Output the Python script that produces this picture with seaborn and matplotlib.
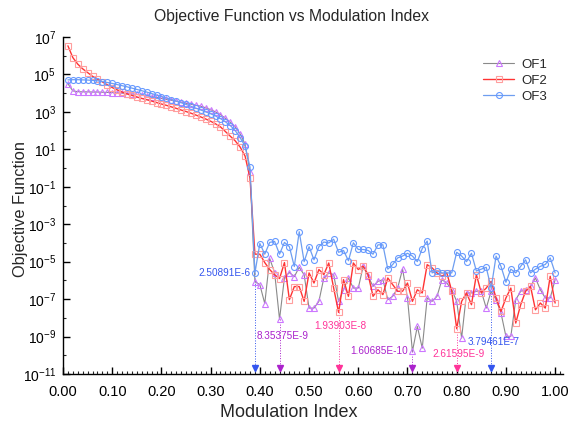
import numpy as np
import pandas as pd
import matplotlib
matplotlib.use("Agg")
import matplotlib.pyplot as plt
import matplotlib.ticker as mticker
from matplotlib.lines import Line2D
import seaborn as sns

# ---------------- data ----------------
x_vals = [round(0.01 * i, 2) for i in range(1, 101)]

# log10 of objective function values
of1_log10 = [4.5, 4.12, 4.08, 4.07, 4.07, 4.06, 4.06, 4.05, 4.04, 4.03,
             4.02, 4.0, 3.98, 3.96, 3.93, 3.9, 3.86, 3.82, 3.77, 3.72,
             3.67, 3.62, 3.57, 3.52, 3.46, 3.41, 3.36, 3.3, 3.22, 3.12,
             3.0, 2.85, 2.66, 2.45, 2.2, 1.82, 1.28, -0.22,
             -6.07, -6.23, -7.24, -4.83, -5.58, -8.078, -5.85, -5.58, -5.8, -5.3,
             -5.7, -7.48, -7.48, -7.12, -5.87, -5.6, -5.69, -7.12, -6.5, -5.87,
             -6.41, -6.41, -5.24, -5.78, -6.32, -6.05, -5.96, -7.03, -6.85, -6.41,
             -5.39, -6.94, -9.794, -8.46, -9.62, -6.94, -7.12, -6.85, -5.96, -6.14,
             -6.5, -7.12, -9.08, -6.67, -6.67, -6.58, -6.58, -7.48, -6.58, -7.03,
             -7.74, -8.99, -8.99, -7.03, -6.58, -6.5, -6.32, -5.87, -6.5, -6.94,
             -6.94, -5.96]

of2_log10 = [6.53, 5.9, 5.55, 5.3, 5.1, 4.9, 4.75, 4.6, 4.45, 4.3,
             4.18, 4.06, 3.96, 3.88, 3.8, 3.72, 3.65, 3.58, 3.5, 3.42,
             3.35, 3.27, 3.19, 3.1, 3.02, 2.93, 2.83, 2.73, 2.62, 2.5,
             2.36, 2.2, 1.95, 1.7, 1.45, 1.12, 0.64, -0.54,
             -4.6, -4.6, -5.05, -5.42, -5.7, -5.9, -5.05, -7.03, -6.33, -6.33,
             -7.12, -5.6, -6.14, -5.42, -5.69, -5.07, -6.41, -7.712, -5.96, -6.85,
             -5.07, -5.42, -5.24, -5.69, -6.85, -6.5, -6.76, -5.87, -6.23, -6.58,
             -6.58, -6.14, -7.12, -6.5, -6.67, -5.16, -5.33, -5.6, -5.78, -5.6,
             -6.58, -8.582, -7.12, -6.67, -7.3, -5.69, -6.67, -6.41, -6.05, -6.94,
             -7.66, -6.94, -6.41, -8.28, -7.3, -6.58, -6.32, -7.57, -7.21, -7.48,
             -5.78, -7.21]

of3_log10 = [4.71, 4.72, 4.72, 4.71, 4.7, 4.68, 4.66, 4.62, 4.57, 4.52,
             4.46, 4.4, 4.34, 4.27, 4.2, 4.13, 4.06, 3.98, 3.9, 3.82,
             3.74, 3.66, 3.58, 3.49, 3.4, 3.3, 3.2, 3.1, 3.0, 2.9,
             2.78, 2.64, 2.47, 2.27, 2.0, 1.62, 1.17, 0.05,
             -5.6005, -4.03, -4.6, -3.97, -3.92, -4.6, -3.97, -4.2, -5.26, -3.4,
             -5.0, -4.2, -4.9, -4.2, -3.95, -4.0, -3.8, -4.5, -4.4, -4.95,
             -3.99, -4.35, -4.35, -4.4, -4.6, -4.1, -4.1, -5.4, -5.15, -4.8,
             -4.7, -4.55, -4.7, -5.0, -4.3, -3.9, -5.6, -5.5, -5.6, -5.6,
             -5.6, -4.5, -4.7, -5.0, -4.55, -5.5, -5.4, -5.3, -6.421, -4.7,
             -5.25, -6.1, -5.4, -5.6, -5.25, -4.9, -5.6, -5.4, -5.25, -5.15,
             -4.8, -5.6]

series_names = ["OF1", "OF2", "OF3"]

# annotated minima
annot_x = [0.39, 0.44, 0.56, 0.71, 0.80, 0.87]
annot_val = [2.50891e-6, 8.35375e-9, 1.93903e-8, 1.60685e-10, 2.61595e-9, 3.79461e-7]
annot_text = ["2.50891E-6", "8.35375E-9", "1.93903E-8", "1.60685E-10", "2.61595E-9", "3.79461E-7"]
annot_color = ["#3355EE", "#AA22CC", "#FF3399", "#AA22CC", "#FF3399", "#3355EE"]
annot_tx = [0.381, 0.447, 0.563, 0.702, 0.803, 0.876]
annot_ty = [2.50891e-6, 1.1e-9, 3.7e-9, 1.60685e-10, 1.2e-10, 5.2e-10]
annot_ha = ["right", "center", "center", "right", "center", "center"]

# ---------------- styling ----------------
sns.set_style("ticks")
plt.rcParams["font.family"] = ["Liberation Sans", "DejaVu Sans"]
plt.rcParams["mathtext.fontset"] = "custom"
plt.rcParams["mathtext.rm"] = "Liberation Sans"
plt.rcParams["mathtext.it"] = "Liberation Sans:italic"

fig = plt.figure(figsize=(5.73, 4.26), dpi=100)
ax = fig.add_axes([63 / 573, 1 - 374 / 426, 500 / 573, 337 / 426])

df = pd.DataFrame({
    "x": x_vals * 3,
    "val": [10 ** v for v in of1_log10] + [10 ** v for v in of2_log10] + [10 ** v for v in of3_log10],
    "series": ["OF1"] * 100 + ["OF2"] * 100 + ["OF3"] * 100,
})

styles = {
    "OF1": dict(color="#8a8a8a", marker="^", mec="#CC77FF", lw=0.8, ms=4.3),
    "OF2": dict(color="#FF3333", marker="s", mec="#FF9E9E", lw=1.0, ms=4.0),
    "OF3": dict(color="#6E9EF0", marker="o", mec="#6699FF", lw=0.9, ms=4.3),
}

for name in series_names:
    st = styles[name]
    sub = df[df["series"] == name]
    sns.lineplot(data=sub, x="x", y="val", ax=ax, color=st["color"], lw=st["lw"],
                 marker=st["marker"], markersize=st["ms"], markerfacecolor="none",
                 markeredgecolor=st["mec"], markeredgewidth=0.8, legend=False)

ax.set_yscale("log")
ax.set_xlim(0, 1.016)
ax.set_ylim(1e-11, 1e7)

# annotations
for xa, va, tx, col, tx_x, tx_y, ha in zip(annot_x, annot_val, annot_text, annot_color,
                                            annot_tx, annot_ty, annot_ha):
    ax.plot([xa, xa], [va, 1e-11], ls=":", lw=0.7, color=col, zorder=1)
    ax.plot([xa], [2.1e-11], marker="v", ms=4, color=col, ls="none", zorder=3)
    ax.text(tx_x, tx_y, tx, color=col, fontsize=7.2, ha=ha, va="center")

# axes
for s in ["top", "right"]:
    ax.spines[s].set_visible(False)
for s in ["left", "bottom"]:
    ax.spines[s].set_linewidth(1.0)
    ax.spines[s].set_color("black")

ax.xaxis.set_major_locator(mticker.MultipleLocator(0.1))
ax.xaxis.set_minor_locator(mticker.MultipleLocator(0.01))
ax.xaxis.set_major_formatter(mticker.FormatStrFormatter("%.2f"))

ymaj = [10.0 ** e for e in range(-11, 8, 2)]
ymin = [10.0 ** e for e in range(-10, 7, 2)]
ax.yaxis.set_major_locator(mticker.FixedLocator(ymaj))
ax.yaxis.set_minor_locator(mticker.FixedLocator(ymin))
ax.yaxis.set_major_formatter(mticker.FixedFormatter([r"$10^{%d}$" % e for e in range(-11, 8, 2)]))
ax.yaxis.set_minor_formatter(mticker.NullFormatter())

ax.tick_params(axis="both", which="major", direction="in", length=5, width=1.0,
               colors="black")
ax.tick_params(axis="x", which="major", pad=8, labelsize=10.5)
ax.tick_params(axis="y", which="major", pad=5, labelsize=10)
ax.tick_params(axis="both", which="minor", direction="in", length=2.5, width=0.8)

ax.set_xlabel("Modulation Index", fontsize=13)
ax.set_ylabel("Objective Function", fontsize=11.8)
ax.xaxis.set_label_coords((289 - 63) / 500, -0.088)
ax.yaxis.set_label_coords(-0.07, 0.49)

fig.text(291 / 573, 1 - 17 / 426, "Objective Function vs Modulation Index",
         fontsize=11.3, ha="center", va="center")

handles = [Line2D([0], [0], color=styles[n]["color"], lw=styles[n]["lw"],
                  marker=styles[n]["marker"], ms=styles[n]["ms"], mfc="none",
                  mec=styles[n]["mec"], mew=0.8) for n in series_names]
ax.legend(handles, series_names, loc="upper right", bbox_to_anchor=(0.985, 0.96),
          frameon=False, fontsize=9.5, handlelength=2.3, handletextpad=0.6,
          labelspacing=0.3, borderaxespad=0.2)

fig.savefig("out.png", dpi=100)
